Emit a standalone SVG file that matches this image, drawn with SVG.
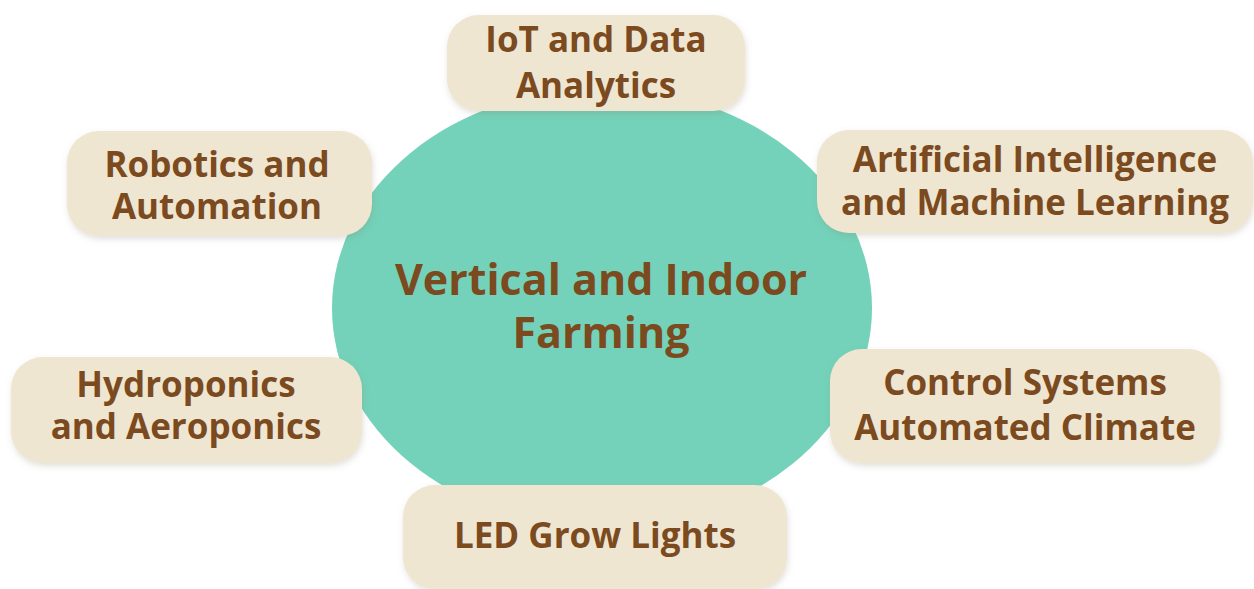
<svg xmlns="http://www.w3.org/2000/svg" width="1254" height="589" viewBox="0 0 1254 589">
  <defs>
    <filter id="softShadow" x="-10%" y="-20%" width="120%" height="150%">
      <feDropShadow dx="1" dy="3" stdDeviation="3" flood-color="#8a8070" flood-opacity="0.25"/>
    </filter>
  </defs>
  <style>
    .hub { fill: #73d2b9; }
    .box { fill: #eee6d1; filter: url(#softShadow); }
    .lbl { font-family: "Open Sans", "Noto Sans", sans-serif; font-weight: 700; font-size: 35px; fill: #7b4a1f; text-anchor: middle; }
    .hub-lbl { font-size: 43px; }
  </style>
  <rect width="1254" height="589" fill="#ffffff"/>

  <!-- central hub -->
  <g id="hub">
    <ellipse class="hub" cx="602" cy="308" rx="270" ry="220"/>
    <text class="lbl hub-lbl" x="601" y="295">Vertical and Indoor</text>
    <text class="lbl hub-lbl" x="601" y="348">Farming</text>
  </g>

  <!-- no drawn connectors: boxes sit on the hub rim -->
  <g id="connectors"/>

  <g id="node-iot">
    <rect class="box" x="447" y="15" width="298" height="96" rx="32"/>
    <text class="lbl" x="596" y="52">IoT and Data</text>
    <text class="lbl" x="596" y="98">Analytics</text>
  </g>

  <g id="node-robotics">
    <rect class="box" x="67" y="131" width="305" height="105" rx="32"/>
    <text class="lbl" x="217" y="177">Robotics and</text>
    <text class="lbl" x="217" y="219">Automation</text>
  </g>

  <g id="node-ai">
    <rect class="box" x="817" y="130" width="436" height="103" rx="32"/>
    <text class="lbl" x="1035" y="172">Artificial Intelligence</text>
    <text class="lbl" x="1035" y="215">and Machine Learning</text>
  </g>

  <g id="node-hydro">
    <rect class="box" x="11" y="357" width="351" height="106" rx="32"/>
    <text class="lbl" x="186" y="397">Hydroponics</text>
    <text class="lbl" x="186" y="439">and Aeroponics</text>
  </g>

  <g id="node-climate">
    <rect class="box" x="830" y="349" width="390" height="114" rx="32"/>
    <text class="lbl" x="1025" y="395">Control Systems</text>
    <text class="lbl" x="1025" y="440">Automated Climate</text>
  </g>

  <g id="node-led">
    <rect class="box" x="403" y="485" width="384" height="104" rx="32"/>
    <text class="lbl" x="595" y="548">LED Grow Lights</text>
  </g>
</svg>
